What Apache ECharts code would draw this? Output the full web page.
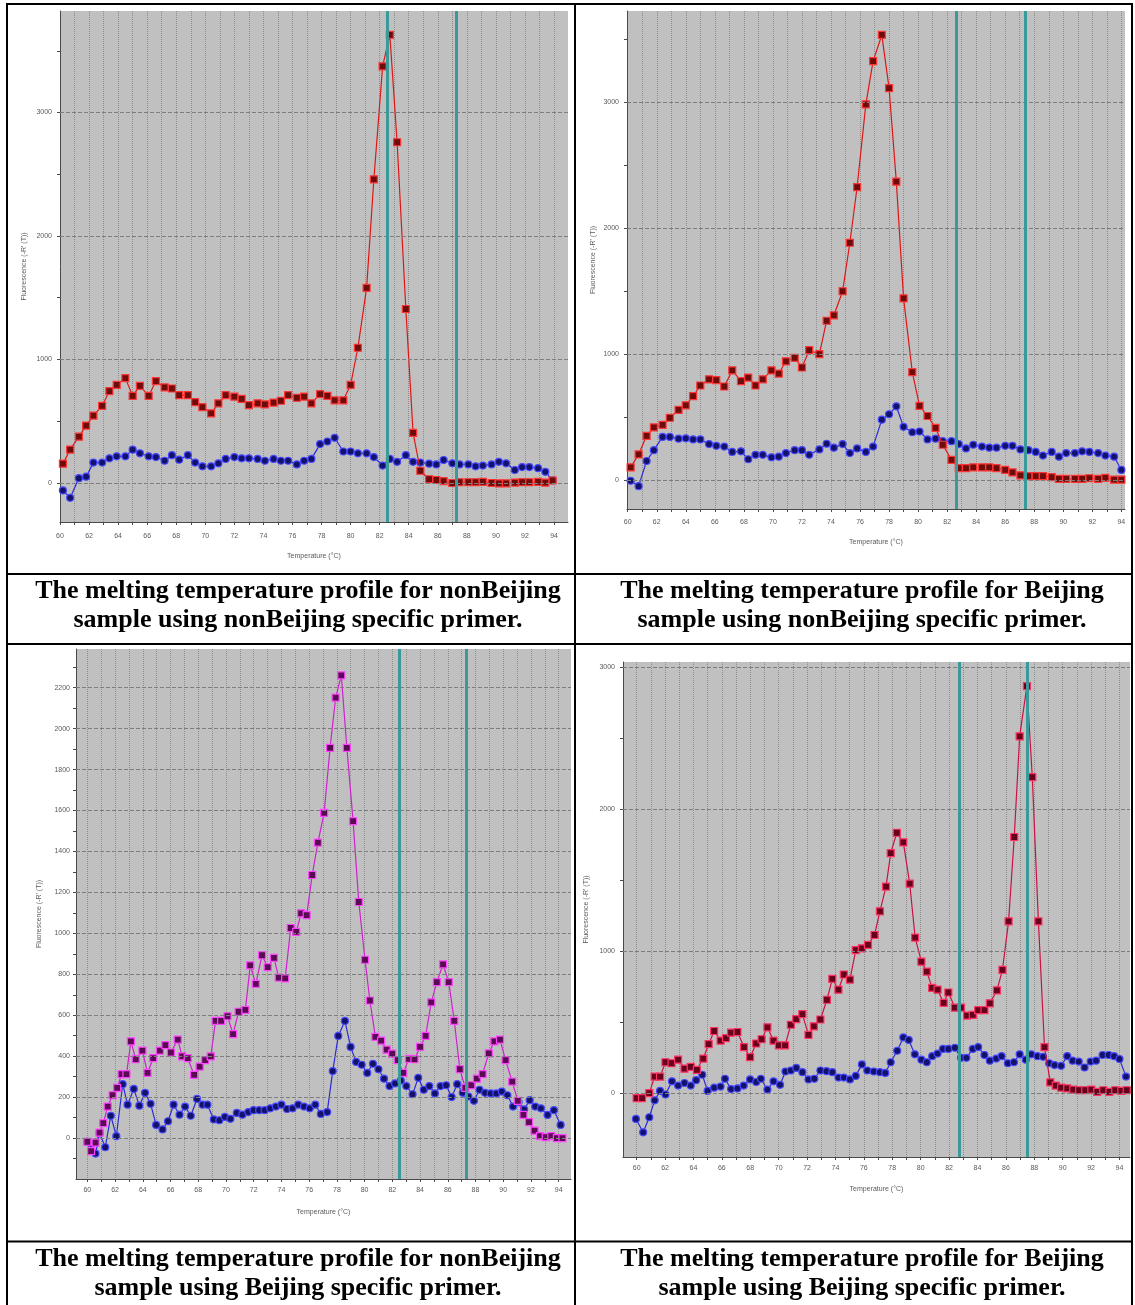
<!DOCTYPE html>
<html>
<head>
<meta charset="utf-8">
<script src="https://cdn.jsdelivr.net/npm/echarts@6/dist/echarts.min.js"></script>
<style>
html,body{margin:0;padding:0;background:#fff;}
#c{width:1135px;height:1305px;}
</style>
</head>
<body>
<div id="c"></div>
<script>
// ---------- Panel A: nonBeijing sample, nonBeijing primer ----------
const tempA = [60.2,60.7,61.3,61.8,62.3,62.9,63.4,63.9,64.5,65.0,65.5,66.1,66.6,67.2,67.7,68.2,68.8,69.3,69.8,70.4,70.9,71.4,72.0,72.5,73.0,73.6,74.1,74.7,75.2,75.7,76.3,76.8,77.3,77.9,78.4,78.9,79.5,80.0,80.5,81.1,81.6,82.2,82.7,83.2,83.8,84.3,84.8,85.4,85.9,86.4,87.0,87.5,88.1,88.6,89.1,89.7,90.2,90.7,91.3,91.8,92.3,92.9,93.4,93.9];
const redA = [156,270,375,465,546,624,744,795,849,705,786,705,825,774,765,711,711,654,615,564,645,711,699,681,630,645,636,651,666,711,690,699,645,720,705,669,669,795,1095,1580,2459,3373,3628,2759,1409,405,99,30,24,15,0,6,6,6,9,0,-3,-3,3,6,6,9,3,20];
const blueA = [-60,-120,39,51,165,165,200,216,216,270,240,216,210,180,225,189,225,165,135,135,159,195,210,200,200,195,180,195,180,180,150,180,195,315,336,366,255,255,240,240,210,141,195,171,225,171,165,156,150,186,159,150,150,135,141,150,171,159,105,129,129,120,90,21];
const meltA = [82.5, 87.3];

// ---------- Panel B: Beijing sample, nonBeijing primer ----------
const tempB = [60.2,60.75,61.3,61.8,62.4,62.9,63.5,64.0,64.5,65.0,65.6,66.1,66.65,67.2,67.8,68.3,68.8,69.3,69.9,70.4,70.9,71.5,72.0,72.5,73.2,73.7,74.2,74.8,75.3,75.8,76.4,76.9,77.5,78.0,78.5,79.0,79.6,80.1,80.65,81.2,81.7,82.3,82.8,83.3,83.8,84.4,84.9,85.4,86.0,86.5,87.05,87.6,88.1,88.6,89.2,89.7,90.2,90.8,91.3,91.8,92.4,92.9,93.5,94.0];
const redB = [100,203,351,417,437,494,556,593,665,750,799,793,742,870,785,813,750,799,870,845,942,970,893,1030,999,1264,1307,1498,1883,2325,2981,3324,3532,3110,2368,1441,856,588,508,414,280,160,94,94,100,100,100,94,80,60,37,31,31,31,23,9,9,9,9,14,9,17,3,3];
const blueB = [-6,-49,151,237,342,342,328,331,322,322,285,271,265,223,228,165,200,200,180,185,214,237,237,200,243,288,257,285,214,251,223,265,479,522,585,422,379,385,322,328,308,308,285,251,280,265,257,257,271,271,243,237,223,194,223,185,214,214,228,223,214,194,185,80];
const meltB = [82.6, 87.35];

// ---------- Panel C: nonBeijing sample, Beijing primer ----------
const tempC1 = [60.0,60.27,60.59,60.88,61.15,61.47,61.82,62.15,62.47,62.82,63.14,63.49,63.97,64.34,64.75,65.23,65.63,66.03,66.52,66.84,67.24,67.70,68.10,68.50,68.90,69.25,69.65,70.11,70.51,70.91,71.40,71.75,72.15,72.60,73.01,73.46,73.81,74.27,74.67,75.07,75.42,75.82,76.22,76.63,77.08,77.51,77.91,78.32,78.72,79.17,79.58,80.03,80.38,80.78,81.19,81.59,81.99,82.39,82.79,83.20,83.60,84.00,84.40,84.81,85.21,85.66,86.07,86.47,86.87,87.27,87.70,88.10,88.51,88.96,89.36,89.77,90.17,90.65,91.05,91.46,91.86,92.26,92.66,93.07,93.47,93.87,94.27];
const magentaC = [-18,-64,-22,27,73,154,209,245,312,312,472,385,427,318,390,427,454,418,481,399,390,309,349,381,399,572,572,595,508,617,626,844,753,893,835,880,784,780,1026,1007,1098,1089,1285,1443,1588,1906,2151,2260,1906,1548,1153,871,672,494,476,432,412,381,318,387,385,445,499,663,762,848,762,572,336,245,258,290,312,414,472,481,381,276,182,113,78,36,9,5,9,0,0];
const tempC2 = [60.0,60.27,60.59,60.88,61.29,61.69,62.09,62.55,62.90,63.35,63.75,64.16,64.56,64.96,65.42,65.82,66.22,66.65,67.05,67.46,67.91,68.31,68.66,69.12,69.52,69.92,70.32,70.78,71.18,71.61,71.99,72.39,72.79,73.19,73.60,74.00,74.40,74.80,75.21,75.63,76.04,76.44,76.84,77.30,77.70,78.10,78.58,78.99,79.39,79.79,80.19,80.60,81.00,81.40,81.80,82.20,82.61,83.01,83.46,83.87,84.27,84.67,85.07,85.48,85.88,86.28,86.68,87.08,87.49,87.89,88.29,88.69,89.10,89.50,89.90,90.30,90.71,91.11,91.51,91.91,92.31,92.72,93.20,93.66,94.14];
const blueC = [-18,-54,-76,24,-45,109,9,263,163,240,158,221,167,64,42,82,163,114,154,109,191,163,163,91,87,103,94,123,114,127,136,136,136,145,154,163,142,145,163,154,145,163,118,127,327,499,572,445,372,358,318,363,336,290,254,267,281,254,214,294,236,254,218,254,258,200,263,221,203,182,236,221,218,218,227,209,154,176,140,185,154,145,113,136,64];
const meltC = [82.5, 87.35];

// ---------- Panel D: Beijing sample, Beijing primer ----------
const tempD1 = [60.00,60.38,60.89,61.27,61.65,62.03,62.46,62.92,63.37,63.81,64.24,64.69,65.07,65.46,65.91,66.29,66.65,67.10,67.56,67.99,68.42,68.80,69.21,69.64,70.02,70.45,70.86,71.24,71.67,72.10,72.48,72.94,73.40,73.78,74.21,74.59,75.02,75.43,75.86,76.29,76.75,77.13,77.56,77.89,78.32,78.78,79.23,79.61,80.05,80.43,80.81,81.19,81.62,81.95,82.41,82.84,83.27,83.67,84.05,84.49,84.87,85.37,85.76,86.19,86.59,86.97,87.48,87.86,88.29,88.72,89.13,89.51,89.89,90.32,90.75,91.16,91.59,92.02,92.43,92.86,93.29,93.70,94.13,94.51];
const redD = [-35,-35,0,116,116,217,210,235,172,185,164,243,344,437,369,387,425,430,324,253,349,379,463,369,336,336,481,521,556,410,470,518,657,804,728,835,799,1006,1019,1044,1113,1280,1454,1689,1833,1765,1474,1095,925,855,741,728,635,708,602,602,546,551,584,584,632,723,867,1209,1803,2511,2865,2225,1209,324,76,53,38,33,25,20,20,25,8,20,8,20,15,20];
const tempD2 = [59.95,60.46,60.89,61.27,61.65,62.03,62.49,62.92,63.37,63.81,64.19,64.62,65.00,65.46,65.91,66.22,66.65,67.10,67.54,67.99,68.42,68.75,69.21,69.64,70.10,70.48,70.86,71.24,71.67,72.10,72.51,72.94,73.37,73.78,74.21,74.59,75.02,75.43,75.86,76.24,76.70,77.13,77.51,77.89,78.35,78.78,79.16,79.59,80.05,80.43,80.81,81.19,81.57,81.95,82.41,82.84,83.22,83.67,84.05,84.49,84.87,85.32,85.70,86.14,86.57,86.97,87.40,87.79,88.22,88.62,89.05,89.43,89.89,90.32,90.70,91.13,91.54,91.97,92.35,92.81,93.24,93.62,94.00,94.46];
const blueD = [-182,-276,-170,-51,15,-10,83,53,71,53,91,129,15,38,46,101,28,33,53,96,78,101,25,83,58,152,159,177,147,96,101,159,154,147,109,109,96,121,202,159,152,147,142,217,298,392,374,273,235,217,260,278,311,311,319,248,248,311,324,268,228,243,260,210,217,273,235,273,260,255,210,197,192,260,228,222,180,222,228,268,268,260,240,116];
const meltD = [82.7, 87.5];

// ---------- Tick labels ----------
const xTickLabels = [60,62,64,66,68,70,72,74,76,78,80,82,84,86,88,90,92,94];
const xTicks = [60,61,62,63,64,65,66,67,68,69,70,71,72,73,74,75,76,77,78,79,80,81,82,83,84,85,86,87,88,89,90,91,92,93,94,95];
const yLabels1000 = [0,1000,2000,3000];
const yTicks500 = [0,500,1000,1500,2000,2500,3000,3500];
const yLabels200 = [0,200,400,600,800,1000,1200,1400,1600,1800,2000,2200];
const yTicks100 = [-100,0,100,200,300,400,500,600,700,800,900,1000,1100,1200,1300,1400,1500,1600,1700,1800,1900,2000,2100,2200,2300];

const captions = [
  ["The melting temperature profile for nonBeijing", "sample using nonBeijing specific primer."],
  ["The melting temperature profile for Beijing", "sample using nonBeijing specific primer."],
  ["The melting temperature profile for nonBeijing", "sample using Beijing specific primer."],
  ["The melting temperature profile for Beijing", "sample using Beijing specific primer."]
];
const xName = "Temperature (\u00B0C)";
const yName = "Fluorescence (-R' (T))";

// ---------- layout / style ----------
const panels = [
  {grid:{left:60,top:11,width:508,height:511}, xmin:60, xmax:94.96, ymin:-316, ymax:3822,
   yLabels:yLabels1000, yTicks:yTicks500, melt:meltA, lblM:11, nameGapX:31, nameGapY:32, yLblM:8,
   series:[{t:tempA,v:blueA,kind:'blue'},{t:tempA,v:redA,kind:'red'}]},
  {grid:{left:627,top:11,width:498,height:498}, xmin:59.95, xmax:94.25, ymin:-230, ymax:3722,
   yLabels:yLabels1000, yTicks:yTicks500, melt:meltB, lblM:10, nameGapX:30, nameGapY:30, yLblM:8,
   series:[{t:tempB,v:blueB,kind:'blue'},{t:tempB,v:redB,kind:'red'}]},
  {grid:{left:76,top:649,width:495,height:530}, xmin:59.18, xmax:94.89, ymin:-200, ymax:2389,
   yLabels:yLabels200, yTicks:yTicks100, melt:meltC, lblM:8, nameGapX:30, nameGapY:33, yLblM:6,
   series:[{t:tempC2,v:blueC,kind:'blue'},{t:tempC1,v:magentaC,kind:'magenta'}]},
  {grid:{left:623,top:662,width:507,height:495}, xmin:59.04, xmax:94.74, ymin:-450, ymax:3035,
   yLabels:yLabels1000, yTicks:yTicks500, melt:meltD, lblM:8, nameGapX:29, nameGapY:33, yLblM:8,
   series:[{t:tempD2,v:blueD,kind:'blue'},{t:tempD1,v:redD,kind:'crimson'}]}
];

const styles = {
  blue:    {symbol:'circle', line:'#2a2ad8', fill:'#12126a', border:'#4646ff'},
  red:     {symbol:'rect',   line:'#e01616', fill:'#6e0b0b', border:'#ff3434'},
  magenta: {symbol:'rect',   line:'#cf1fcf', fill:'#5a0a52', border:'#ff44ff'},
  crimson: {symbol:'rect',   line:'#cc1044', fill:'#66001c', border:'#ff3262'}
};

const axisTxt = {fontSize:7, color:'#5a5a5a', fontFamily:'Liberation Sans, Arial, sans-serif'};
const plain = v => String(v);

const grids = [], xAxes = [], yAxes = [], series = [];
panels.forEach((p, i) => {
  grids.push(Object.assign({show:true, backgroundColor:'#c0c0c0', borderWidth:0, containLabel:false}, p.grid));
  xAxes.push({
    type:'value', gridIndex:i, min:p.xmin, max:p.xmax,
    axisLine:{show:true, onZero:false, lineStyle:{color:'#4a4a4a', width:1}},
    axisTick:{show:true, customValues:xTicks, length:3, lineStyle:{color:'#4a4a4a'}},
    axisLabel:{customValues:xTickLabels, formatter:plain, margin:p.lblM, fontSize:7, color:'#5a5a5a', fontFamily:axisTxt.fontFamily},
    splitLine:{show:true, lineStyle:{type:'dotted', color:'#8e8e8e', width:1}},
    name:xName, nameLocation:'middle', nameGap:p.nameGapX, nameTextStyle:axisTxt
  });
  yAxes.push({
    type:'value', gridIndex:i, min:p.ymin, max:p.ymax,
    axisLine:{show:true, onZero:false, lineStyle:{color:'#4a4a4a', width:1}},
    axisTick:{show:true, customValues:p.yTicks, length:3, lineStyle:{color:'#4a4a4a'}},
    axisLabel:{customValues:p.yLabels, formatter:plain, margin:p.yLblM, fontSize:7, color:'#5a5a5a', fontFamily:axisTxt.fontFamily},
    splitLine:{show:false},
    name:yName, nameLocation:'middle', nameGap:p.nameGapY, nameRotate:90, nameTextStyle:axisTxt
  });
  p.series.forEach((s, k) => {
    const st = styles[s.kind];
    const ser = {
      type:'line', xAxisIndex:i, yAxisIndex:i,
      data:s.t.map((t, j) => [t, s.v[j]]),
      symbol:st.symbol, symbolSize:7, showSymbol:true,
      lineStyle:{color:st.line, width:1.2},
      itemStyle:{color:st.fill, borderColor:st.border, borderWidth:1.2},
      z:3 + k
    };
    if (k === 0) {
      ser.markLine = {
        silent:true, symbol:['none','none'], label:{show:false}, animation:false,
        data: p.yLabels.map(v => ({yAxis:v, lineStyle:{type:'dashed', color:'#7e7e7e', width:1}}))
          .concat(p.melt.map(v => ({xAxis:v, lineStyle:{type:'solid', color:'#3a9a9a', width:3}})))
      };
    }
    series.push(ser);
  });
});

// table borders and captions
const B = '#000';
const graphic = [];
const hLines = [4, 574, 644, 1241.5];
const vLines = [7, 575, 1132];
hLines.forEach(y => graphic.push({type:'line', shape:{x1:6, y1:y, x2:1133, y2:y}, style:{stroke:B, lineWidth:2}, z:100}));
vLines.forEach(x => graphic.push({type:'line', shape:{x1:x, y1:3, x2:x, y2:1305}, style:{stroke:B, lineWidth:2}, z:100}));
const capPos = [[298, 591], [862, 591], [298, 1259], [862, 1259]];
captions.forEach((c, i) => {
  c.forEach((line, j) => {
    graphic.push({type:'text', z:100, style:{
      text:line, x:capPos[i][0], y:capPos[i][1] + j * 29,
      textAlign:'center', textVerticalAlign:'middle',
      font:'bold 26px "Liberation Serif", "Times New Roman", serif', fill:'#000'
    }});
  });
});

const chart = echarts.init(document.getElementById('c'), null, {renderer:'canvas'});
chart.setOption({
  animation:false,
  backgroundColor:'#ffffff',
  grid:grids, xAxis:xAxes, yAxis:yAxes, series:series, graphic:graphic
});
</script>
</body>
</html>
